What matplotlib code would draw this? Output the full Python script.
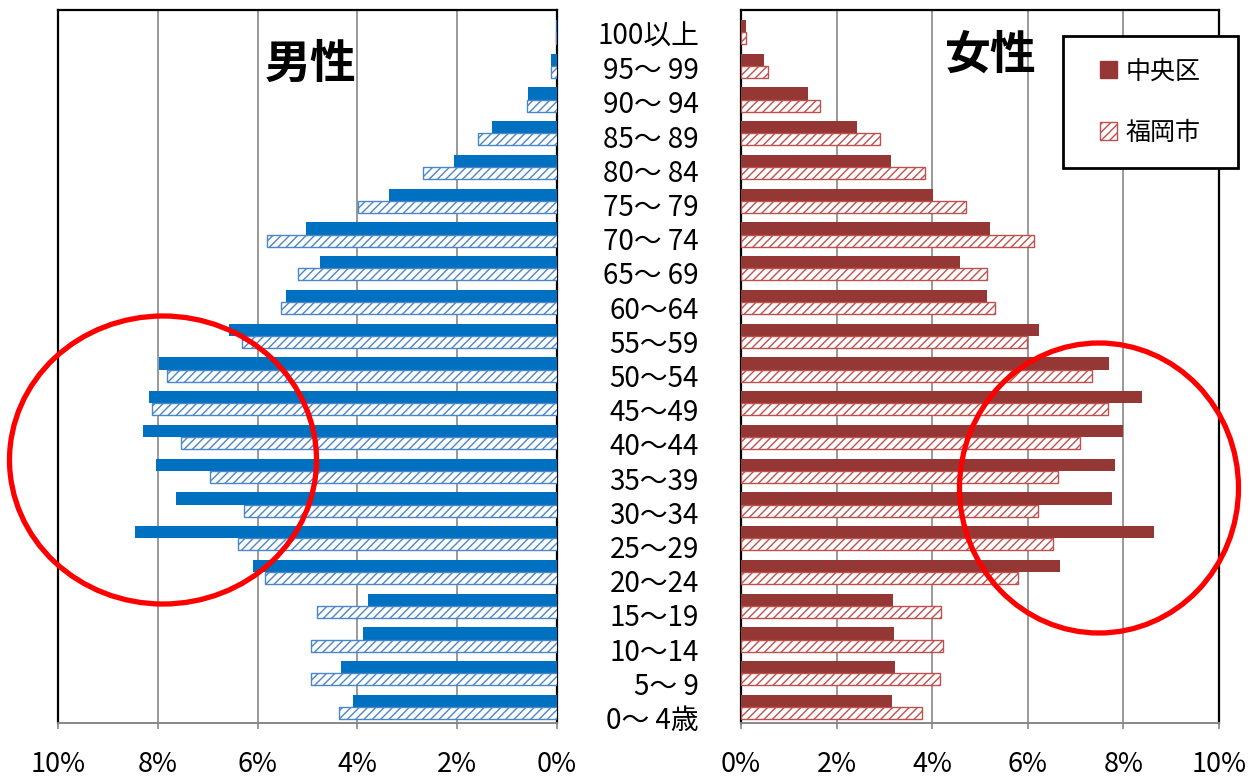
import numpy as np
import matplotlib
matplotlib.use("Agg")
import matplotlib.pyplot as plt
from matplotlib.patches import Patch, Ellipse, Rectangle
from matplotlib.ticker import PercentFormatter

plt.rcParams['font.family'] = ['Noto Sans CJK JP', 'DejaVu Sans']
plt.rcParams['hatch.linewidth'] = 1.0

# age groups, top to bottom
ages = ["100以上", "95～ 99", "90～ 94", "85～ 89", "80～ 84", "75～ 79", "70～ 74",
        "65～ 69", "60～64", "55～59", "50～54", "45～49", "40～44", "35～39",
        "30～34", "25～29", "20～24", "15～19", "10～14", "5～ 9", "0～ 4歳"]

# share of population (%)
male_chuo = [0.03, 0.12, 0.58, 1.31, 2.06, 3.36, 5.03, 4.74, 5.43, 6.57, 7.98,
             8.17, 8.30, 8.04, 7.63, 8.46, 6.10, 3.78, 3.88, 4.33, 4.08]
male_fukuoka = [0.03, 0.13, 0.61, 1.59, 2.69, 3.98, 5.82, 5.20, 5.53, 6.31, 7.81,
                8.12, 7.54, 6.96, 6.28, 6.39, 5.86, 4.81, 4.93, 4.92, 4.36]
female_chuo = [0.11, 0.49, 1.40, 2.42, 3.13, 4.01, 5.20, 4.58, 5.15, 6.23, 7.70,
               8.38, 7.99, 7.82, 7.77, 8.63, 6.67, 3.19, 3.20, 3.23, 3.16]
female_fukuoka = [0.10, 0.57, 1.66, 2.90, 3.84, 4.71, 6.14, 5.14, 5.31, 5.98, 7.35,
                  7.68, 7.10, 6.63, 6.21, 6.53, 5.80, 4.19, 4.23, 4.16, 3.79]
series_names = ["中央区", "福岡市"]
xticks = [0, 2, 4, 6, 8, 10]

W, H = 1254, 778
fig = plt.figure(figsize=(W / 100, H / 100), dpi=100)

n = len(ages)
y = np.arange(n)[::-1]
bh = 0.36

def px(x0, x1, top, bottom):
    return [x0 / W, 1 - bottom / H, (x1 - x0) / W, (bottom - top) / H]

ax_m = fig.add_axes(px(58, 557, 10, 723))
ax_f = fig.add_axes(px(741, 1219, 10, 723))

male_solid, male_line = '#0070C0', '#4A86C8'
fem_solid, fem_line = '#953735', '#C0504D'

ax_m.barh(y + bh / 2, male_chuo, height=bh, color=male_solid, zorder=3)
ax_m.barh(y - bh / 2, male_fukuoka, height=bh, facecolor='white',
          edgecolor=male_line, hatch='////', linewidth=1.0, zorder=3)
ax_f.barh(y + bh / 2, female_chuo, height=bh, color=fem_solid, zorder=3)
ax_f.barh(y - bh / 2, female_fukuoka, height=bh, facecolor='white',
          edgecolor=fem_line, hatch='////', linewidth=1.0, zorder=3)

ax_m.set_xlim(10, 0)
ax_f.set_xlim(0, 10)

for ax in (ax_m, ax_f):
    ax.set_ylim(-0.474, n - 1 + 0.652)
    ax.set_xticks(xticks)
    ax.xaxis.set_major_formatter(PercentFormatter(decimals=0))
    ax.set_yticks([])
    ax.grid(axis='x', color='#878787', linewidth=1.2, zorder=0)
    ax.set_axisbelow(True)
    for s in ('left', 'right', 'top'):
        ax.spines[s].set_color('black')
        ax.spines[s].set_linewidth(1.6)
    ax.spines['bottom'].set_color('#878787')
    ax.spines['bottom'].set_linewidth(1.4)
    ax.tick_params(axis='x', length=4, width=1.2, color='#878787',
                   labelsize=19.5, pad=16, labelcolor='black')

# age labels between the panels
label_y = np.linspace(1 - 37 / H, 1 - 721 / H, n)
for lab, ly in zip(ages, label_y):
    fig.text(699 / W, ly, lab, ha='right', va='center', fontsize=20)

fig.text(311 / W, 1 - 65 / H, "男性", ha='center', va='center',
         fontsize=33, fontweight='bold')
fig.text(991 / W, 1 - 56 / H, "女性", ha='center', va='center',
         fontsize=33, fontweight='bold')

# legend: frameless legend inside a drawn box
box = Rectangle((1063 / W, 1 - 168 / H), 175 / W, 132 / H, transform=fig.transFigure,
                facecolor='white', edgecolor='black', linewidth=2.0, zorder=5)
fig.add_artist(box)
handles = [Patch(facecolor=fem_solid, edgecolor=fem_solid),
           Patch(facecolor='white', edgecolor=fem_line, hatch='////')]
leg = fig.legend(handles, series_names, loc='center',
                 bbox_to_anchor=(1150 / W, 1 - 102 / H), fontsize=18,
                 frameon=False, labelspacing=1.42, handlelength=0.68,
                 handleheight=0.68, handletextpad=0.35, borderaxespad=0,
                 borderpad=0)
leg.set_zorder(6)

# red circles marking the 20s-50s bulge
for cx, cy, w, h in [(163, 460, 307, 288), (1099, 488, 279, 290)]:
    e = Ellipse((cx / W, 1 - cy / H), w / W, h / H, transform=fig.transFigure,
                fill=False, edgecolor='#FF0000', linewidth=3.8, zorder=7)
    fig.add_artist(e)

fig.savefig("out.png", dpi=100)
